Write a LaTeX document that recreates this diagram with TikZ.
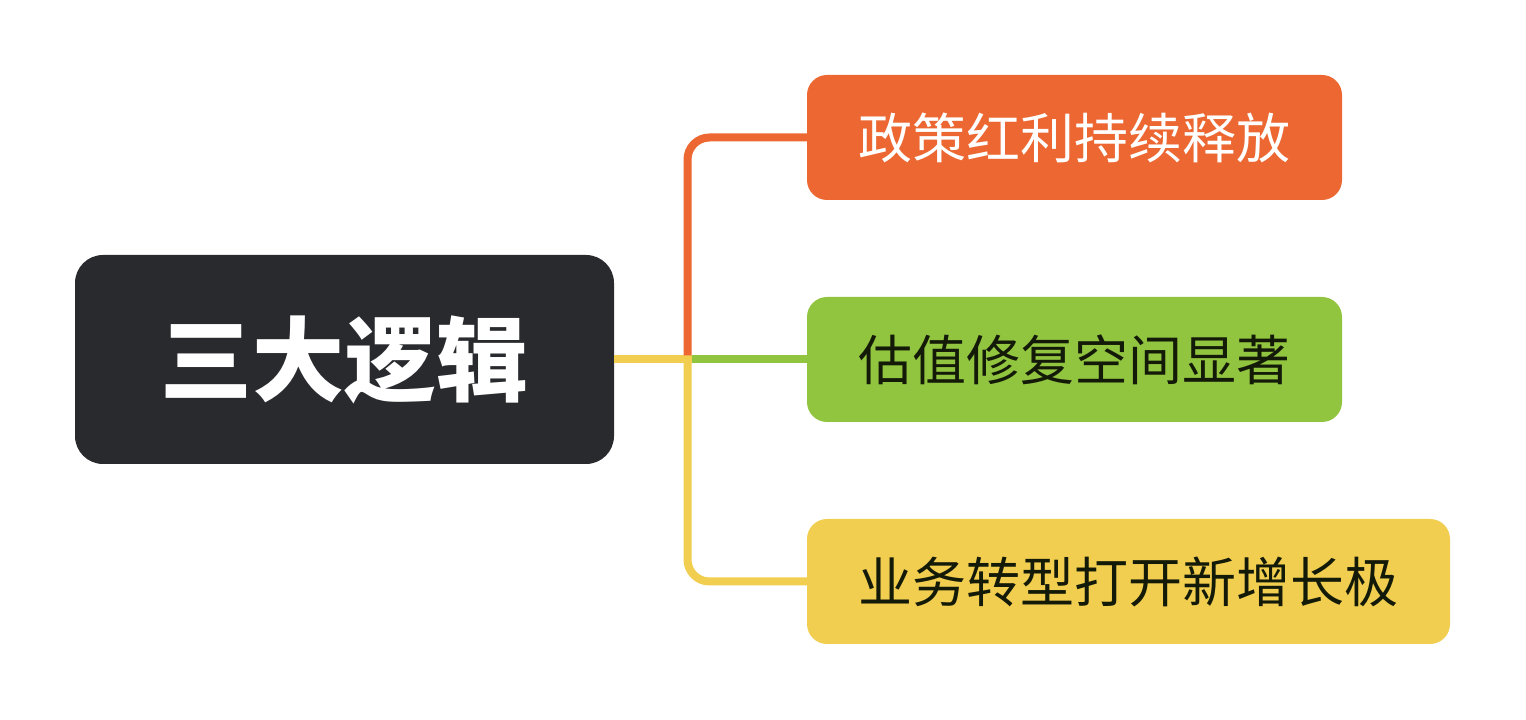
\documentclass[tikz,border=0pt]{standalone}
\usepackage{fontspec}
\newfontfamily\cjk{Noto Sans CJK SC}
\definecolor{cdark}{HTML}{292A2E}
\definecolor{corange}{HTML}{EC6731}
\definecolor{cgreen}{HTML}{91C43F}
\definecolor{cyellow}{HTML}{F1CE4F}
\definecolor{ctext}{HTML}{141A08}
\tikzset{
  rootbox/.style={fill=cdark, rounded corners=28pt, minimum width=539pt, minimum height=209pt, inner sep=0pt, text=white, font=\cjk\bfseries\fontsize{92}{92}\selectfont},
  leafbox/.style={rounded corners=20pt, minimum height=125pt, inner sep=0pt, font=\cjk\fontsize{54}{54}\selectfont},
  conn/.style={line width=8pt, line cap=butt},
}
\begin{document}
\begin{tikzpicture}[x=1pt,y=1pt]
\useasboundingbox (0,0) rectangle (1526,720);
\node[rootbox] (root) at (344.5,360.5) {三大逻辑};
\node[leafbox, fill=corange, text=white, minimum width=535pt] (c1) at (1074.5,582.5) {政策红利持续释放};
\node[leafbox, fill=cgreen, text=ctext, minimum width=535pt] (c2) at (1074.5,360.5) {估值修复空间显著};
\node[leafbox, fill=cyellow, text=ctext, minimum width=643pt] (c3) at (1128.5,138.5) {业务转型打开新增长极};
\coordinate (j) at (687.5,360.5);
\coordinate (jr) at (691.5,360.5);
\coordinate (jt) at (687.5,364.5);
\draw[conn, cyellow] (root.east) -- (jr);
\draw[conn, cyellow, rounded corners=22pt] (j) |- (c3.west);
\draw[conn, corange, rounded corners=22pt] (jt) |- (c1.west);
\draw[conn, cgreen] (jr) -- (c2.west);
\end{tikzpicture}
\end{document}
